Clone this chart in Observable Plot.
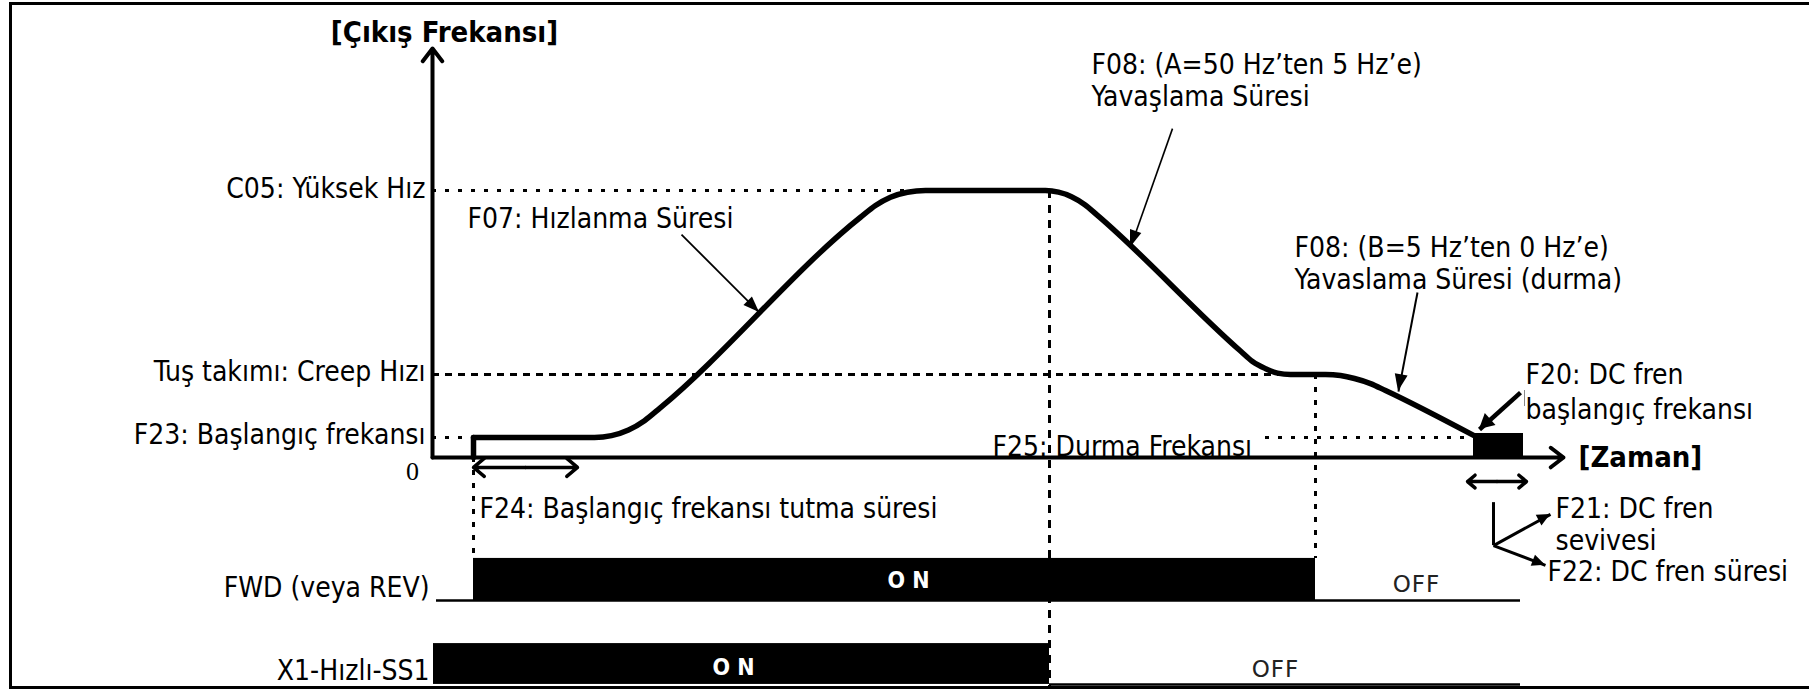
<!DOCTYPE html>
<html><head><meta charset="utf-8">
<script src="https://cdn.jsdelivr.net/npm/d3@7"></script>
<script src="https://cdn.jsdelivr.net/npm/@observablehq/plot@0.6"></script>
<style>
html,body{margin:0;padding:0;background:#fff;}
#chart svg{display:block;}
</style></head><body><div id="chart"></div>
<script>
// Time t in arbitrary units, output frequency f in % of high speed (C05 = 100)
const levels = [
  {name: "C05: Yüksek Hız", f: 100},
  {name: "Tuş takımı: Creep Hızı", f: 31.1},
  {name: "F23: Başlangıç frekansı", f: 7.5}
];
const axisEnd = {t: 113.1, f: 153.2};

// output frequency profile
const curveT = [4.1, 16.2, 17.9, 19.6, 21.2, 22.8, 42.8, 44.3, 45.8, 47.5, 49.3, 61.3, 62.6, 63.9, 65.2, 66.5, 80.8, 82.0, 83.3, 84.5, 85.8, 89.3, 90.8, 92.2, 93.8, 95.3, 104.3];
const curveF = [7.5, 7.5, 8.2, 10.3, 13.8, 18.7, 90.0, 94.4, 97.5, 99.4, 100, 100, 99.4, 97.7, 94.8, 90.7, 39.9, 36.0, 33.3, 31.6, 31.1, 31.1, 30.7, 29.6, 27.7, 25.1, 7.9];
const startStep = [{t: 4.1, f: 0}, {t: 4.1, f: 7.5}];
const dcBlock = [{t1: 104.1, t2: 109.1, f1: 0, f2: 9.0}];

// guides
const dottedH = [
  {f: 100, t1: 0, t2: 47.5},
  {f: 7.5, t1: 0, t2: 4.1},
  {f: 7.5, t1: 83.3, t2: 104.1}
];
const dashedH = [{f: 31.1, t1: 0, t2: 88.3}];
const dashedV = [{t: 61.7, f1: 100, f2: -86.9}];
const dottedV = [{t: 88.3, f1: 31.1, f2: -37.8}, {t: 4.1, f1: 0, f2: -37.8}];

// signal rows
const signals = [
  {name: "FWD (veya REV)", on: 4.1, off: 88.3, low: -53.6, high: -37.8, lineFrom: 0.4, lineTo: 108.8},
  {name: "X1-Hızlı-SS1", on: 0.1, off: 61.7, low: -85.0, high: -69.7, lineFrom: 61.7, lineTo: 108.8}
];
const onStates = [{text: "O N", t: 47.6, f: -48.7}, {text: "O N", t: 30.1, f: -81.3}];
const offStates = [{text: "OFF", t: 98.4, f: -50.3}, {text: "OFF", t: 84.3, f: -82.3}];

// annotation pointers
const pointers = [
  {t1: 24.9, f1: 83.5, t2: 32.7, f2: 54.3, w: 1.8, len: 16, half: 6},
  {t1: 74.0, f1: 123.2, t2: 69.8, f2: 78.7, w: 1.6, len: 17, half: 6},
  {t1: 98.5, f1: 61.8, t2: 96.6, f2: 24.7, w: 2, len: 17, half: 6.5},
  {t1: 108.8, f1: 24.3, t2: 104.7, f2: 10.5, w: 4.5, len: 15, half: 8},
  {t1: 106.1, f1: -33.0, t2: 111.8, f2: -21.3, w: 3, len: 13, half: 6},
  {t1: 106.1, f1: -33.0, t2: 111.3, f2: -40.4, w: 3, len: 13, half: 6}
];
const doubleArrows = [{a: 4.1, b: 14.5, f: -3.7}, {a: 103.5, b: 109.4, f: -9.0}];
const branchStem = [{t: 106.1, f1: -16.9, f2: -33.0}];
const stray = [{t: 109.2, f1: 25.1, f2: 19.1}];

const notes = [
  {text: "F07: Hızlanma Süresi", t: 3.5, f: 85.8},
  {text: "F08: (A=50 Hz’ten 5 Hz’e)", t: 65.9, f: 143.8},
  {text: "Yavaşlama Süresi", t: 65.9, f: 131.8},
  {text: "F08: (B=5 Hz’ten 0 Hz’e)", t: 86.2, f: 75.3},
  {text: "Yavaslama Süresi (durma)", t: 86.2, f: 63.3},
  {text: "F20: DC fren", t: 109.3, f: 27.7},
  {text: "başlangıç frekansı", t: 109.3, f: 14.6},
  {text: "F25: Durma Frekansı", t: 56.0, f: 0.6},
  {text: "F24: Başlangıç frekansı tutma süresi", t: 4.7, f: -22.5},
  {text: "F21: DC fren", t: 112.3, f: -22.8},
  {text: "sevivesi", t: 112.3, f: -34.5},
  {text: "F22: DC fren süresi", t: 111.5, f: -46.1}
];
const yTitle = [{text: "[Çıkış Frekansı]", t: 1.2, f: 155.8}];
const xTitle = [{text: "[Zaman]", t: 114.6, f: 0}];

const FONT = "'DejaVu Sans Condensed', 'DejaVu Sans', sans-serif";

// filled arrowheads drawn through the plot's scales
function filledHeads(data) {
  return (index, scales) => {
    const g = d3.create("svg:g").attr("fill", "#000");
    for (const d of data) {
      const x1 = scales.x(d.t1), y1 = scales.y(d.f1), x2 = scales.x(d.t2), y2 = scales.y(d.f2);
      const L = Math.hypot(x2 - x1, y2 - y1), ux = (x2 - x1) / L, uy = (y2 - y1) / L;
      const bx = x2 - ux * d.len, by = y2 - uy * d.len;
      g.append("path").attr("d", `M${x2},${y2}L${bx - uy * d.half},${by + ux * d.half}L${bx + uy * d.half},${by - ux * d.half}Z`);
    }
    return g.node();
  };
}
// shafts stop a little before the tip
function shortenLine(d, k) { return d; }

const chart = Plot.plot({
  width: 1809, height: 689, margin: 0,
  x: {domain: [-43.2, 137.7], axis: null},
  y: {domain: [-86.9, 171.2], axis: null},
  style: {background: "#fff", fontFamily: FONT, color: "#000", overflow: "visible"},
  marks: [
    Plot.frame({stroke: "#000", strokeWidth: 3, insetLeft: 10, insetTop: 3, insetBottom: 2, insetRight: -20}),
    // guides
    Plot.ruleY(dottedH, {y: "f", x1: "t1", x2: "t2", stroke: "#000", strokeWidth: 3, strokeDasharray: "4,9"}),
    Plot.ruleY(dashedH, {y: "f", x1: "t1", x2: "t2", stroke: "#000", strokeWidth: 3, strokeDasharray: "7,6"}),
    Plot.ruleX(dashedV, {x: "t", y1: "f1", y2: "f2", stroke: "#000", strokeWidth: 3, strokeDasharray: "8,7"}),
    Plot.ruleX(dottedV, {x: "t", y1: "f1", y2: "f2", stroke: "#000", strokeWidth: 3, strokeDasharray: "5,8"}),
    // signal rows
    Plot.ruleY(signals, {y: "low", x1: "lineFrom", x2: "lineTo", stroke: "#000", strokeWidth: 2.5}),
    Plot.rect(signals, {x1: "on", x2: "off", y1: "low", y2: "high", fill: "#000"}),
    Plot.text(signals, {x: 0, y: "low", text: "name", textAnchor: "end", lineAnchor: "bottom", dx: -3, dy: -4, fontSize: 28}),
    Plot.text(onStates, {x: "t", y: "f", text: "text", fill: "#fff", fontWeight: "bold", fontSize: 23, lineAnchor: "bottom"}),
    Plot.text(offStates, {x: "t", y: "f", text: "text", fill: "#222", fontSize: 23, lineAnchor: "bottom", fontFamily: "'DejaVu Sans', sans-serif"}),
    // frequency profile
    Plot.rect(dcBlock, {x1: "t1", x2: "t2", y1: "f1", y2: "f2", fill: "#000"}),
    Plot.line(startStep, {x: "t", y: "f", stroke: "#000", strokeWidth: 5.5}),
    Plot.line(curveT.map((t, i) => ({t, f: curveF[i]})), {x: "t", y: "f", curve: "monotone-x", stroke: "#000", strokeWidth: 5.5, strokeLinejoin: "round"}),
    // axes
    Plot.arrow([{t1: 0, f1: 0, t2: 0, f2: axisEnd.f}, {t1: 0, f1: 0, t2: axisEnd.t, f2: 0}], {x1: "t1", y1: "f1", x2: "t2", y2: "f2", stroke: "#000", strokeWidth: 4, headLength: 6, headAngle: 75}),
    Plot.text(levels, {x: 0, y: "f", text: "name", textAnchor: "end", lineAnchor: "middle", dx: -7, dy: -2, fontSize: 28}),
    Plot.text([0], {x: 0, y: 0, text: d => String(d), dx: -20, dy: 14, fontSize: 26, fontFamily: "'Liberation Serif', serif", lineAnchor: "middle"}),
    // pointers
    Plot.link(pointers, {x1: "t1", y1: "f1", x2: "t2", y2: "f2", stroke: "#000", strokeWidth: "w"}),
    filledHeads(pointers),
    Plot.arrow(doubleArrows, {x1: d => (d.a + d.b) / 2, x2: "a", y1: "f", y2: "f", stroke: "#000", strokeWidth: 3.5, headLength: 6, headAngle: 80}),
    Plot.arrow(doubleArrows, {x1: d => (d.a + d.b) / 2, x2: "b", y1: "f", y2: "f", stroke: "#000", strokeWidth: 3.5, headLength: 6, headAngle: 80}),
    Plot.ruleX(branchStem, {x: "t", y1: "f1", y2: "f2", stroke: "#000", strokeWidth: 3}),
    Plot.ruleX(stray, {x: "t", y1: "f1", y2: "f2", stroke: "#888", strokeWidth: 1}),
    // labels
    Plot.text(notes, {x: "t", y: "f", text: "text", textAnchor: "start", lineAnchor: "bottom", fontSize: 28}),
    Plot.text(yTitle, {x: "t", y: "f", text: "text", textAnchor: "middle", lineAnchor: "bottom", fontSize: 29, fontWeight: "bold"}),
    Plot.text(xTitle, {x: "t", y: "f", text: "text", textAnchor: "start", lineAnchor: "middle", fontSize: 29, fontWeight: "bold"})
  ]
});
d3.select(chart).selectAll("text").filter(function() { return this.textContent === "OFF"; }).style("letter-spacing", "1px");
document.getElementById("chart").appendChild(chart);
</script></body></html>
